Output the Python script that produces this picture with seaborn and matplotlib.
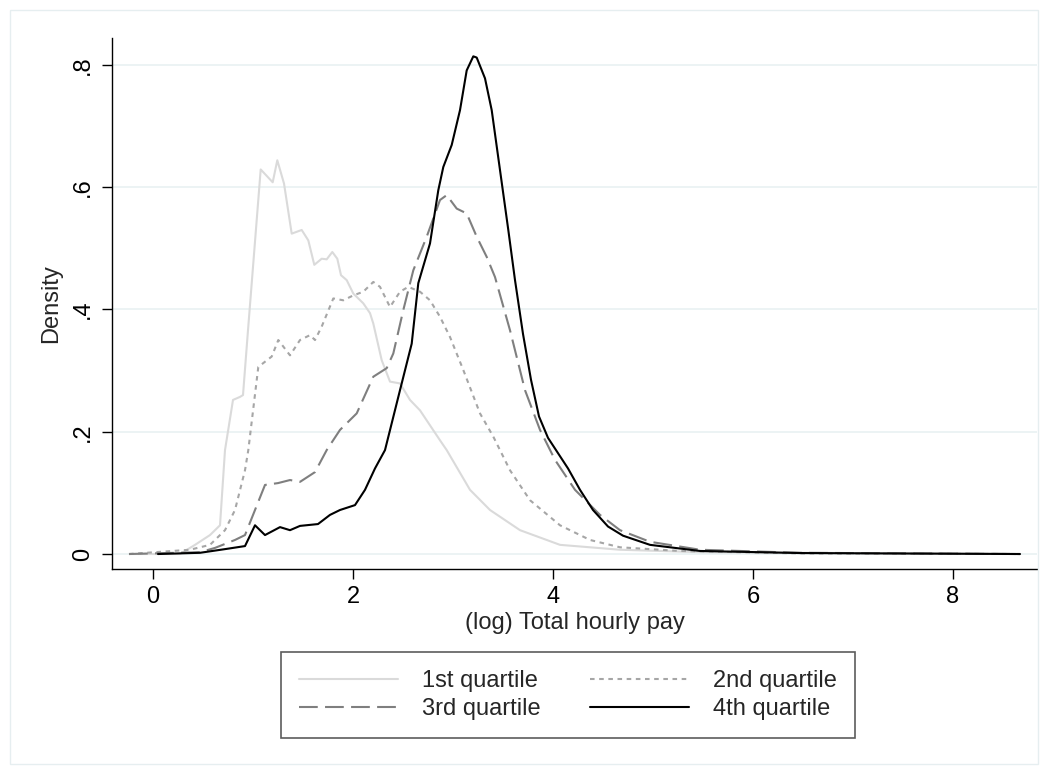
import numpy as np
import pandas as pd
import matplotlib
matplotlib.use("Agg")
import matplotlib.pyplot as plt
from matplotlib.patches import Rectangle
import seaborn as sns

# ---- data (x = log hourly pay, y = density) ----
q1_x = [-0.23, 0.27, 0.42, 0.57, 0.67, 0.72, 0.80, 0.87, 0.90, 0.95, 1.077, 1.197, 1.243, 1.31,
        1.387, 1.487, 1.553, 1.613, 1.687, 1.737, 1.793, 1.843, 1.88, 1.937, 2.003, 2.103, 2.17,
        2.203, 2.287, 2.37, 2.47, 2.57, 2.67, 2.87, 2.937, 3.17, 3.37, 3.67, 4.07, 4.67, 5.47, 8.67]
q1_y = [0.0, 0.0, 0.015, 0.031, 0.047, 0.17, 0.252, 0.257, 0.26, 0.366, 0.629, 0.608, 0.644, 0.606,
        0.524, 0.530, 0.513, 0.473, 0.483, 0.482, 0.494, 0.483, 0.456, 0.448, 0.426, 0.41, 0.394,
        0.377, 0.317, 0.282, 0.279, 0.252, 0.235, 0.186, 0.170, 0.105, 0.072, 0.039, 0.015, 0.007, 0.003, 0.0]

q2_x = [-0.24, 0.37, 0.57, 0.72, 0.82, 0.92, 0.953, 1.053, 1.187, 1.253, 1.37, 1.47, 1.57, 1.62,
        1.687, 1.803, 1.903, 2.003, 2.103, 2.203, 2.27, 2.37, 2.47, 2.553, 2.67, 2.77, 2.87, 2.97,
        3.103, 3.27, 3.403, 3.57, 3.77, 4.07, 4.37, 4.67, 5.27, 6.47, 8.67]
q2_y = [0.0, 0.007, 0.015, 0.039, 0.072, 0.137, 0.17, 0.306, 0.323, 0.35, 0.325, 0.35, 0.358, 0.35,
        0.372, 0.418, 0.415, 0.423, 0.429, 0.445, 0.437, 0.404, 0.429, 0.437, 0.429, 0.415, 0.388, 0.355,
        0.301, 0.23, 0.192, 0.137, 0.088, 0.047, 0.023, 0.011, 0.005, 0.001, 0.0]

q3_x = [-0.24, 0.47, 0.62, 0.82, 0.92, 1.02, 1.12, 1.25, 1.37, 1.47, 1.62, 1.737, 1.87, 2.037,
        2.203, 2.337, 2.403, 2.503, 2.603, 2.737, 2.87, 2.937, 3.037, 3.137, 3.237, 3.337, 3.42,
        3.57, 3.72, 3.87, 4.02, 4.22, 4.47, 4.67, 4.97, 5.47, 6.47, 8.67]
q3_y = [0.0, 0.003, 0.01, 0.023, 0.031, 0.072, 0.113, 0.116, 0.121, 0.118, 0.134, 0.17, 0.203, 0.23,
        0.29, 0.304, 0.328, 0.399, 0.464, 0.519, 0.579, 0.587, 0.565, 0.557, 0.519, 0.486, 0.453,
        0.366, 0.268, 0.203, 0.154, 0.105, 0.064, 0.039, 0.02, 0.007, 0.002, 0.0]

q4_x = [0.05, 0.47, 0.72, 0.92, 1.02, 1.12, 1.27, 1.37, 1.47, 1.65, 1.77, 1.87, 2.02, 2.12, 2.22,
        2.32, 2.47, 2.587, 2.653, 2.77, 2.853, 2.903, 2.987, 3.07, 3.137, 3.203, 3.237, 3.32, 3.387,
        3.47, 3.553, 3.62, 3.70, 3.78, 3.86, 3.95, 4.05, 4.15, 4.27, 4.40, 4.55, 4.70, 4.97, 5.47,
        6.47, 8.67]
q4_y = [0.0, 0.002, 0.008, 0.013, 0.047, 0.031, 0.044, 0.039, 0.046, 0.049, 0.064, 0.072, 0.08, 0.105, 0.14,
        0.17, 0.268, 0.344, 0.443, 0.508, 0.595, 0.633, 0.669, 0.726, 0.791, 0.814, 0.812, 0.778, 0.726,
        0.628, 0.530, 0.448, 0.36, 0.285, 0.225, 0.19, 0.165, 0.14, 0.105, 0.072, 0.045, 0.03, 0.015, 0.005,
        0.0016, 0.0]

labels = ["1st quartile", "2nd quartile", "3rd quartile", "4th quartile"]
x_ticks = [0, 2, 4, 6, 8]
y_ticks = [0, 0.2, 0.4, 0.6, 0.8]
y_tick_labels = ["0", ".2", ".4", ".6", ".8"]

frames = []
for lab, xs, ys in zip(labels, [q1_x, q2_x, q3_x, q4_x], [q1_y, q2_y, q3_y, q4_y]):
    frames.append(pd.DataFrame({"x": xs, "y": ys, "quartile": lab}))
df = pd.concat(frames, ignore_index=True)

sns.set_style("white")
plt.rcParams["font.family"] = ["Liberation Sans", "DejaVu Sans"]

fig = plt.figure(figsize=(10.48, 7.74), dpi=100)
ax = fig.add_axes([112 / 1048, 1 - 569 / 774, (1037 - 112) / 1048, (569 - 38) / 774])

palette = {labels[0]: "#dadada", labels[1]: "#a6a6a6", labels[2]: "#7f7f7f", labels[3]: "#000000"}
dashes = {labels[0]: "", labels[1]: (2.2, 2.2), labels[2]: (9, 3.5), labels[3]: ""}

sns.lineplot(data=df, x="x", y="y", hue="quartile", style="quartile", palette=palette,
             dashes=dashes, estimator=None, sort=False, linewidth=1.5, ax=ax)

ax.set_xlim(-0.41, 8.84)
ax.set_ylim(-0.0245, 0.844)
ax.set_xticks(x_ticks)
ax.set_xticklabels([str(t) for t in x_ticks])
ax.set_yticks(y_ticks)
ax.set_yticklabels(y_tick_labels, rotation=90, va="center")
for t in y_ticks:
    ax.axhline(t, color="#eaf2f3", lw=1.3, zorder=0)

for side in ["top", "right"]:
    ax.spines[side].set_visible(False)
for side in ["left", "bottom"]:
    ax.spines[side].set_color("black")
    ax.spines[side].set_linewidth(1.0)
ax.tick_params(axis="both", which="major", direction="out", length=7, width=1.0,
               color="black", labelsize=17, labelcolor="black", left=True, bottom=True)
ax.tick_params(axis="x", pad=5)
ax.tick_params(axis="y", pad=6)
ax.set_xlabel("(log) Total hourly pay", fontsize=17, labelpad=3)
ax.set_ylabel("Density", fontsize=17, labelpad=7)

handles, labs = ax.get_legend_handles_labels()
hmap = dict(zip(labs, handles))
ax.get_legend().remove()
order = [labels[0], labels[2], labels[1], labels[3]]
leg = fig.legend([hmap[l] for l in order], order, loc="center", bbox_to_anchor=(568 / 1048, 1 - 695 / 774),
                 ncol=2, frameon=True, fancybox=False, edgecolor="#333333", fontsize=17,
                 handlelength=4.2, columnspacing=2.1, borderpad=0.75, labelspacing=0.25,
                 handletextpad=1.0, borderaxespad=0)
leg.get_frame().set_linewidth(1.2)
for l in leg.get_lines():
    l.set_linewidth(1.5)

fig.patches.append(Rectangle((10 / 1048, 10 / 774), 1028 / 1048, 754 / 774, transform=fig.transFigure,
                             fill=False, edgecolor="#e6eef0", lw=1.0))

fig.savefig("out.png", dpi=100)
